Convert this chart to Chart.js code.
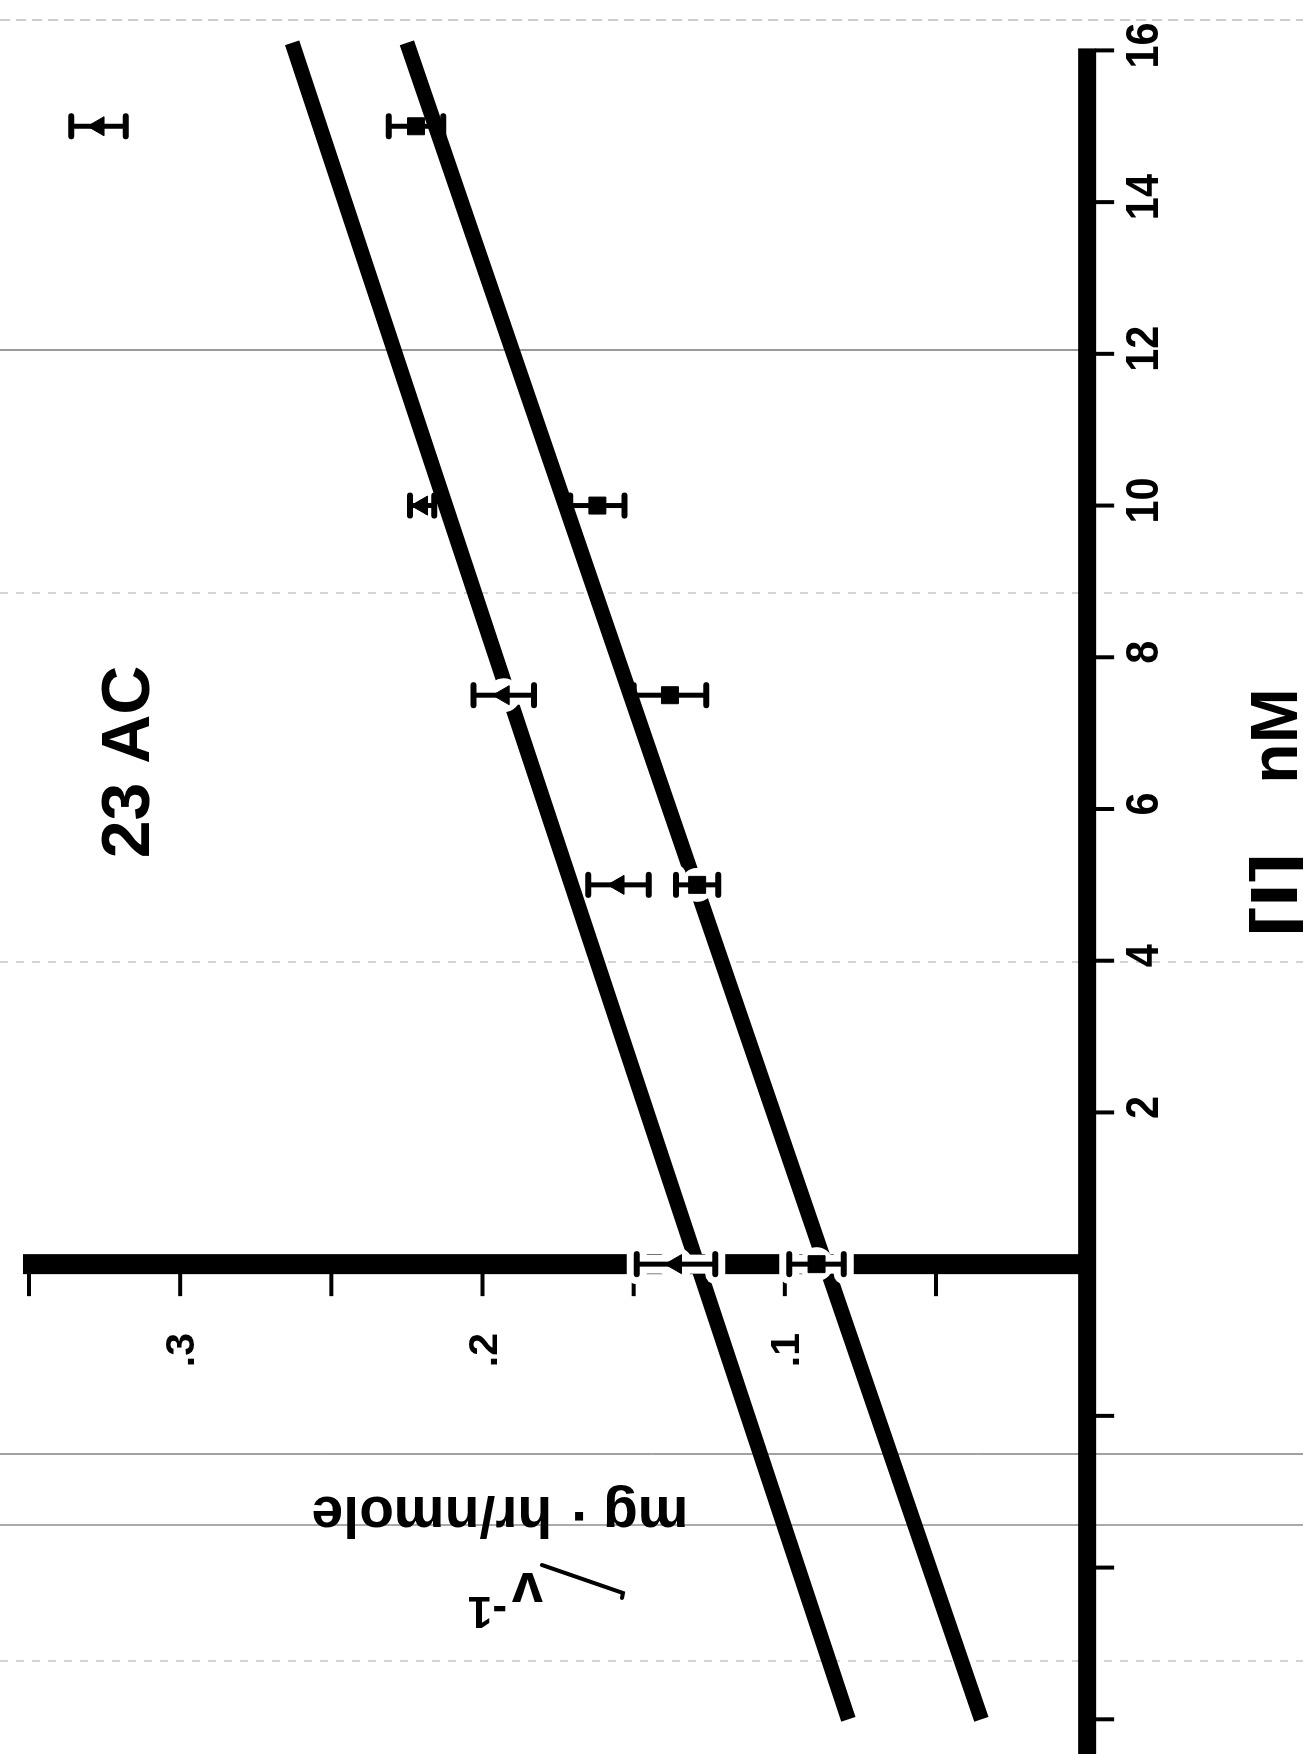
<!DOCTYPE html>
<html><head><meta charset="utf-8">
<script src="https://cdn.jsdelivr.net/npm/chart.js@4.4.1/dist/chart.umd.min.js"></script>
<style>
html,body{margin:0;padding:0;background:#fff;overflow:hidden;}
#page{position:relative;width:1303px;height:1754px;overflow:hidden;background:#fff;}
#rot{position:absolute;left:0;top:1754px;width:1754px;height:1303px;transform-origin:0 0;transform:rotate(-90deg);}
canvas{display:block;}
</style></head><body>
<div id="page"><div id="rot"><canvas id="c" width="1754" height="1303"></canvas></div></div>
<script>
// ---- data ----
const concentration = [0, 5, 7.5, 10, 15];            // [I] nM
const triangleValues = [0.136, 0.155, 0.193, 0.220, 0.327];
const triangleErrors = [0.013, 0.010, 0.010, 0.004, 0.009];
const squareValues   = [0.0895, 0.129, 0.138, 0.162, 0.222];
const squareErrors   = [0.009, 0.007, 0.012, 0.009, 0.009];
const fitLineConc    = [-6.0, 16.1];
const fitTriangle    = [0.079, 0.263];
const fitSquare      = [0.035, 0.225];
const xTicks      = [-6, -4, -2, 2, 4, 6, 8, 10, 12, 14, 16];
const xTickLabels = ['', '', '', '2', '4', '6', '8', '10', '12', '14', '16'];
const yTicks      = [0.05, 0.1, 0.15, 0.2, 0.25, 0.3, 0.35];
const yTickLabels = ['', '.1', '', '.2', '', '.3', ''];
const titleText = '23 AC';
const xAxisTitleA = '[I]';
const xAxisTitleB = 'nM';
const yAxisTitle = 'mg · hr/nmole';
const yAxisSymbol = 'v';
const yAxisExponent = '-1';

const FONT = '"Liberation Sans", Arial, Helvetica, sans-serif';

const figurePlugin = {
  id: 'figure',
  beforeDraw(chart) {
    const ctx = chart.ctx;
    ctx.save();
    ctx.fillStyle = '#fff';
    ctx.fillRect(0, 0, chart.width, chart.height);
    // faint scan rule lines of the original sheet
    const rules = [
      {x: 1734, c: '#9a9a9a', w: 1, d: [10, 6]},
      {x: 1404, c: '#555', w: 1.2, d: [], y1: 1090},
      {x: 1161, c: '#aaa', w: 1, d: [8, 8]},
      {x: 792,  c: '#aaa', w: 1, d: [8, 8]},
      {x: 300,  c: '#444', w: 1, d: []},
      {x: 229,  c: '#aaa', w: 2, d: []},
      {x: 93,   c: '#aaa', w: 1, d: [8, 8]}
    ];
    rules.forEach(r => {
      ctx.beginPath();
      ctx.setLineDash(r.d);
      ctx.strokeStyle = r.c; ctx.lineWidth = r.w;
      ctx.moveTo(r.x, 0); ctx.lineTo(r.x, r.y1 || chart.height);
      ctx.stroke();
    });
    ctx.setLineDash([]);
    ctx.restore();
  },
  beforeDatasetsDraw(chart) {
    const ctx = chart.ctx;
    const xs = chart.scales.x, ys = chart.scales.y;
    const x0 = xs.getPixelForValue(0), y0 = ys.getPixelForValue(0);
    ctx.save();
    ctx.fillStyle = '#000'; ctx.strokeStyle = '#000';
    // [I] axis (v = 0)
    const xEnd = xs.getPixelForValue(16);
    ctx.fillRect(0, y0 - 9, xEnd + 2, 18);
    // v axis ([I] = 0)
    const yTop = ys.getPixelForValue(0.352);
    ctx.fillRect(x0 - 10, yTop, 20, y0 - yTop);
    // ticks on [I] axis
    ctx.lineWidth = 4; ctx.lineCap = 'butt';
    xTicks.forEach((t, i) => {
      const px = xs.getPixelForValue(t);
      ctx.beginPath(); ctx.moveTo(px, y0 + 8); ctx.lineTo(px, y0 + 27); ctx.stroke();
      if (xTickLabels[i]) {
        ctx.save();
        ctx.translate(px + 5, y0 + 71);
        ctx.scale(0.9, 1);
        ctx.font = 'bold 46px ' + FONT;
        ctx.textAlign = 'center'; ctx.textBaseline = 'alphabetic';
        ctx.fillText(xTickLabels[i], 0, 0);
        ctx.restore();
      }
    });
    // ticks on v axis
    yTicks.forEach((t, i) => {
      const py = ys.getPixelForValue(t);
      ctx.beginPath(); ctx.moveTo(x0 - 9, py); ctx.lineTo(x0 - 32, py); ctx.stroke();
      if (yTickLabels[i]) {
        ctx.font = 'bold 41px ' + FONT;
        ctx.textAlign = 'right'; ctx.textBaseline = 'alphabetic';
        ctx.fillText(yTickLabels[i], 421, py + 14);
      }
    });
    // title
    ctx.font = 'bold 68px ' + FONT;
    ctx.textAlign = 'center'; ctx.textBaseline = 'alphabetic';
    ctx.fillText(titleText, 992, 149);
    // x axis title
    ctx.font = 'bold 66px ' + FONT;
    ctx.save();
    ctx.translate(859, 1297); ctx.scale(1.35, 1);
    ctx.fillText(xAxisTitleA, 0, 0);
    ctx.restore();
    ctx.fillText(xAxisTitleB, 1018, 1297);
    // y axis title (rotated)
    ctx.save();
    ctx.translate(257, 500); ctx.rotate(-Math.PI / 2);
    ctx.font = 'bold 57px ' + FONT;
    ctx.textAlign = 'center';
    ctx.fillText(yAxisTitle, 0, 0);
    ctx.restore();
    ctx.save();
    ctx.translate(181, 543); ctx.rotate(-Math.PI / 2);
    ctx.textAlign = 'left';
    ctx.font = 'bold 56px ' + FONT;
    ctx.fillText(yAxisSymbol, 0, 0);
    ctx.font = 'bold 44px ' + FONT;
    ctx.fillText(yAxisExponent, 36, -24);
    ctx.restore();
    // hand-drawn stroke next to v^-1
    ctx.lineWidth = 4; ctx.lineCap = 'round';
    ctx.beginPath(); ctx.moveTo(189, 542); ctx.lineTo(161, 623); ctx.lineTo(156, 622); ctx.stroke();
    ctx.restore();
  },
  beforeDatasetDraw(chart, args) {
    const ds = chart.data.datasets[args.index];
    if (!ds.errors) return;
    const ctx = chart.ctx;
    const xs = chart.scales.x, ys = chart.scales.y;
    const halo = ds.halo || [];
    ctx.save();
    ds.data.forEach((p, i) => {
      const px = xs.getPixelForValue(p.x);
      const pTop = ys.getPixelForValue(p.y + ds.errors[i]);
      const pBot = ys.getPixelForValue(p.y - ds.errors[i]);
      const pc = ys.getPixelForValue(p.y);
      if (halo.includes(i)) {
        ctx.strokeStyle = '#fff'; ctx.fillStyle = '#fff';
        ctx.lineCap = 'round';
        ctx.lineWidth = 19;
        ctx.beginPath(); ctx.moveTo(px, pTop); ctx.lineTo(px, pBot); ctx.stroke();
        ctx.lineWidth = 20;
        [pTop, pBot].forEach(yy => { ctx.beginPath(); ctx.moveTo(px - 10, yy); ctx.lineTo(px + 10, yy); ctx.stroke(); });
        ctx.beginPath(); ctx.arc(px, pc, 17, 0, Math.PI * 2); ctx.fill();
      }
      ctx.strokeStyle = '#000';
      ctx.lineCap = 'butt'; ctx.lineWidth = 5;
      ctx.beginPath(); ctx.moveTo(px, pTop); ctx.lineTo(px, pBot); ctx.stroke();
      ctx.lineCap = 'round'; ctx.lineWidth = 6;
      [pTop, pBot].forEach(yy => { ctx.beginPath(); ctx.moveTo(px - 10, yy); ctx.lineTo(px + 10, yy); ctx.stroke(); });
    });
    ctx.restore();
  }
};

const pts = (xa, ya) => xa.map((x, i) => ({x: x, y: ya[i]}));

new Chart(document.getElementById('c'), {
  type: 'scatter',
  data: {
    datasets: [
      {label: 'fit triangles', data: pts(fitLineConc, fitTriangle), showLine: true, borderColor: '#000', borderWidth: 15, pointRadius: 0, order: 2, clip: false},
      {label: 'fit squares', data: pts(fitLineConc, fitSquare), showLine: true, borderColor: '#000', borderWidth: 15, pointRadius: 0, order: 2, clip: false},
      {label: 'triangles', data: pts(concentration, triangleValues), errors: triangleErrors, halo: [0, 2], pointStyle: 'triangle', pointRadius: 11, backgroundColor: '#000', borderColor: '#000', borderWidth: 1, order: 1},
      {label: 'squares', data: pts(concentration, squareValues), errors: squareErrors, halo: [0, 1], pointStyle: 'rect', pointRadius: 12, backgroundColor: '#000', borderColor: '#000', borderWidth: 1, order: 1}
    ]
  },
  options: {
    responsive: false, animation: false, devicePixelRatio: 1, events: [],
    layout: {padding: 0},
    plugins: {legend: {display: false}, tooltip: {enabled: false}},
    scales: {
      x: {type: 'linear', min: -6.286, max: 16.493, display: false},
      y: {type: 'linear', min: -0.0671, max: 0.3553, display: false}
    }
  },
  plugins: [figurePlugin]
});
</script>
</body></html>
